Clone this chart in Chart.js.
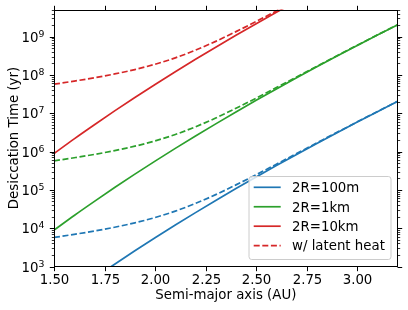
<!DOCTYPE html>
<html>
<head>
<meta charset="utf-8">
<script src="https://cdn.jsdelivr.net/npm/chart.js"></script>
<style>
  html, body { margin: 0; padding: 0; background: #fff; }
  #wrap { width: 408px; height: 310px; }
</style>
</head>
<body>
<div id="wrap"><canvas id="desiccationChart"></canvas></div>
<script>
// semi-major axis (AU)
const semiMajorAxis = [1.5, 1.6, 1.7, 1.8, 1.9, 2.0, 2.1, 2.2, 2.3, 2.4, 2.5, 2.6, 2.7, 2.8, 2.9, 3.0, 3.1, 3.2];

// desiccation time (yr), no latent heat
const t100m = [89, 215, 502, 1150, 2570, 5620, 12100, 25500, 52800, 108000, 217000, 431000, 843000, 1630000, 3110000, 5890000, 11000000, 20400000];
const t1km = [8910, 21500, 50200, 115000, 257000, 562000, 1210000, 2550000, 5280000, 10800000, 21700000, 43100000, 84300000, 163000000, 311000000, 589000000, 1100000000, 2040000000];
const t10km = [891000, 2150000, 5020000, 11500000, 25700000, 56200000, 121000000, 255000000, 528000000, 1080000000, 2170000000, 4310000000, 8430000000, 16300000000, 31100000000, 58900000000, 110000000000, 204000000000];

// desiccation time (yr), with latent heat
const t100mLatent = [5720, 6900, 8430, 10600, 13800, 19000, 27900, 44300, 75200, 135000, 248000, 468000, 887000, 1680000, 3180000, 5960000, 11100000, 20500000];
const t1kmLatent = [572000, 690000, 843000, 1060000, 1380000, 1900000, 2790000, 4430000, 7520000, 13500000, 24800000, 46800000, 88700000, 168000000, 318000000, 596000000, 1110000000, 2050000000];
const t10kmLatent = [57200000, 69000000, 84300000, 106000000, 138000000, 190000000, 279000000, 443000000, 752000000, 1350000000, 2480000000, 4680000000, 8870000000, 16800000000, 31800000000, 59600000000, 111000000000, 205000000000];

const sizeLabels = ["2R=100m", "2R=1km", "2R=10km"];
const latentLabel = "w/ latent heat";
const xTickValues = [1.5, 1.75, 2.0, 2.25, 2.5, 2.75, 3.0];
const yTickValues = [1e3, 1e4, 1e5, 1e6, 1e7, 1e8, 1e9];
const xTitle = "Semi-major axis (AU)";
const yTitle = "Desiccation Time (yr)";

const colors = ["#1f77b4", "#2ca02c", "#d62728"];
const FONT = '13.33px "DejaVu Sans"';
const DASH = [6, 2.6];

function toPoints(values) {
  return semiMajorAxis.map((a, i) => ({ x: a, y: values[i] }));
}

function lineSet(label, values, color, dashed) {
  return {
    label: label,
    data: toPoints(values),
    borderColor: color,
    backgroundColor: color,
    borderWidth: 1.7,
    borderDash: dashed ? DASH : [],
    pointRadius: 0,
    cubicInterpolationMode: "monotone",
    fill: false,
    clip: 0,
    order: dashed ? 0 : 1
  };
}

const datasets = [
  lineSet(sizeLabels[0], t100m, colors[0], false),
  lineSet(sizeLabels[1], t1km, colors[1], false),
  lineSet(sizeLabels[2], t10km, colors[2], false),
  lineSet("", t100mLatent, colors[0], true),
  lineSet("", t1kmLatent, colors[1], true),
  lineSet(latentLabel, t10kmLatent, colors[2], true)
];

// matplotlib style frame, ticks, labels and legend
const axesDecor = {
  id: "axesDecor",
  afterDraw(chart) {
    const ctx = chart.ctx;
    const a = chart.chartArea;
    const x = chart.scales.x;
    const y = chart.scales.y;
    const L = Math.round(a.left) + 0.5, R = Math.round(a.right) - 0.5;
    const T = Math.round(a.top) + 0.5, B = Math.round(a.bottom) - 0.5;
    ctx.save();
    ctx.strokeStyle = "#000";
    ctx.fillStyle = "#000";

    // spines
    ctx.lineWidth = 1;
    ctx.strokeRect(L, T, R - L, B - T);

    // x ticks, bottom and top
    ctx.font = FONT;
    ctx.textAlign = "center";
    ctx.textBaseline = "alphabetic";
    x.ticks.forEach(t => {
      const px = Math.round(x.getPixelForValue(t.value)) + 0.5;
      ctx.beginPath();
      ctx.moveTo(px, B); ctx.lineTo(px, B + 4.7);
      ctx.moveTo(px, T); ctx.lineTo(px, T - 4.7);
      ctx.stroke();
      ctx.fillText(t.value.toFixed(2), px, 284);
    });

    // y minor ticks
    ctx.lineWidth = 0.8;
    for (let e = 2; e <= 9; e++) {
      for (let m = 2; m <= 9; m++) {
        const v = m * Math.pow(10, e);
        if (v < y.min || v > y.max) continue;
        const py = Math.round(y.getPixelForValue(v)) + 0.5;
        ctx.beginPath();
        ctx.moveTo(L - 2.7, py); ctx.lineTo(L, py);
        ctx.moveTo(R, py); ctx.lineTo(R + 2.7, py);
        ctx.stroke();
      }
    }

    // y major ticks and 10^n labels
    ctx.lineWidth = 1;
    y.ticks.forEach(t => {
      const py = Math.round(y.getPixelForValue(t.value)) + 0.5;
      ctx.beginPath();
      ctx.moveTo(L - 4.7, py); ctx.lineTo(L, py);
      ctx.moveTo(R, py); ctx.lineTo(R + 4.7, py);
      ctx.stroke();
      const ex = String(Math.round(Math.log10(t.value)));
      ctx.textAlign = "left";
      ctx.font = '9.33px "DejaVu Sans"';
      const we = ctx.measureText(ex).width;
      ctx.font = FONT;
      const wb = ctx.measureText("10").width;
      const right = 44.5;
      ctx.fillText("10", right - we - wb, py + 4.8);
      ctx.font = '9.33px "DejaVu Sans"';
      ctx.fillText(ex, right - we, py - 1);
    });

    // axis titles
    ctx.font = FONT;
    ctx.textAlign = "center";
    ctx.fillText(xTitle, (a.left + a.right) / 2, 299);
    ctx.save();
    ctx.translate(18, (a.top + a.bottom) / 2);
    ctx.rotate(-Math.PI / 2);
    ctx.fillText(yTitle, 0, 0);
    ctx.restore();

    // legend, lower right
    const bx = 249, by = 176.5, bw = 142, bh = 83, r = 2.7;
    ctx.beginPath();
    ctx.moveTo(bx + r, by);
    ctx.arcTo(bx + bw, by, bx + bw, by + bh, r);
    ctx.arcTo(bx + bw, by + bh, bx, by + bh, r);
    ctx.arcTo(bx, by + bh, bx, by, r);
    ctx.arcTo(bx, by, bx + bw, by, r);
    ctx.closePath();
    ctx.fillStyle = "rgba(255,255,255,0.8)";
    ctx.fill();
    ctx.strokeStyle = "#cccccc";
    ctx.lineWidth = 1;
    ctx.stroke();

    const entries = [
      { label: sizeLabels[0], color: colors[0], dash: [] },
      { label: sizeLabels[1], color: colors[1], dash: [] },
      { label: sizeLabels[2], color: colors[2], dash: [] },
      { label: latentLabel, color: colors[2], dash: DASH }
    ];
    ctx.textAlign = "left";
    ctx.font = FONT;
    entries.forEach((en, i) => {
      const ry = 187.3 + i * 19.45;
      ctx.strokeStyle = en.color;
      ctx.lineWidth = 1.7;
      ctx.setLineDash(en.dash);
      ctx.beginPath();
      ctx.moveTo(253.7, ry); ctx.lineTo(280.7, ry);
      ctx.stroke();
      ctx.setLineDash([]);
      ctx.fillStyle = "#000";
      ctx.fillText(en.label, 292, ry + 4.8);
    });
    ctx.restore();
  }
};

new Chart(document.getElementById("desiccationChart"), {
  type: "line",
  data: { datasets: datasets },
  options: {
    responsive: true,
    maintainAspectRatio: false,
    animation: false,
    devicePixelRatio: 1,
    layout: { padding: { top: 9.5, right: 10.3, left: 0, bottom: 0 } },
    plugins: { legend: { display: false }, tooltip: { enabled: false } },
    scales: {
      x: {
        type: "linear",
        min: 1.5,
        max: 3.2,
        afterBuildTicks: scale => { scale.ticks = xTickValues.map(v => ({ value: v })); },
        afterFit: scale => { scale.height = 43.5; },
        ticks: { display: false },
        grid: { display: false },
        border: { display: false }
      },
      y: {
        type: "logarithmic",
        min: 1e3,
        max: 5.1e9,
        afterBuildTicks: scale => { scale.ticks = yTickValues.map(v => ({ value: v })); },
        afterFit: scale => { scale.width = 54; },
        ticks: { display: false },
        grid: { display: false },
        border: { display: false }
      }
    }
  },
  plugins: [axesDecor]
});
</script>
</body>
</html>
